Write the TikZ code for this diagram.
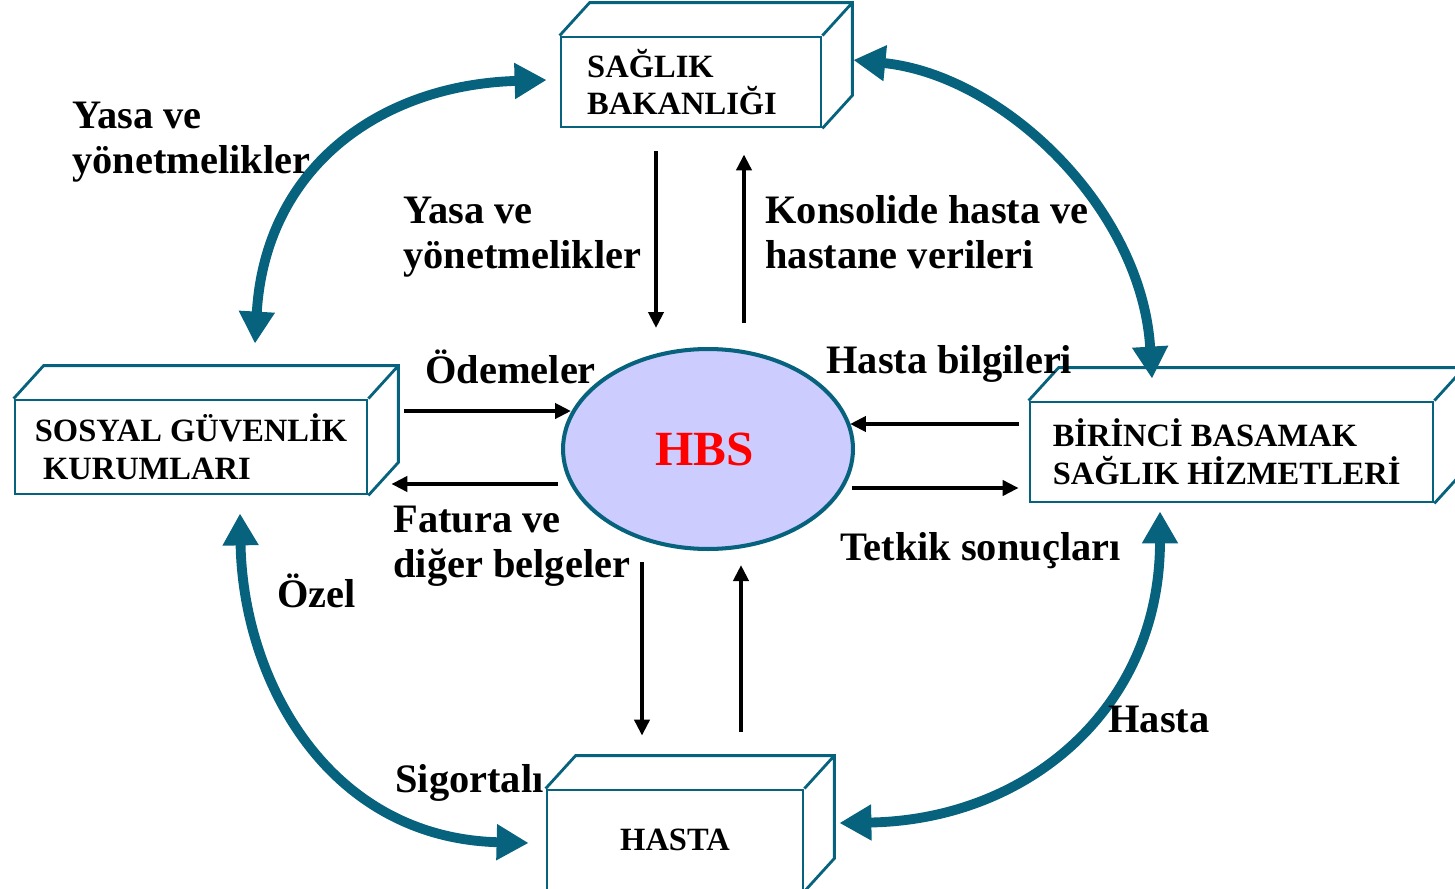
\documentclass[tikz,border=0pt]{standalone}
\usepackage{fontspec}
\setmainfont{Liberation Serif}
\usetikzlibrary{arrows.meta,positioning,shapes.geometric,calc}
\definecolor{petrol}{RGB}{6,98,125}
\definecolor{lavanta}{RGB}{204,204,255}
\tikzset{
  kutu/.style={draw=petrol,line width=1.6pt,align=left,inner sep=0pt,
    font=\fontsize{18.5}{21.5}\selectfont\bfseries},
  kenar/.style={draw=petrol,line width=1.6pt},
  lbl/.style={anchor=base west,align=left,inner sep=0pt,
    font=\fontsize{23}{25.5}\selectfont\bfseries},
  fl/.style={-{Triangle[length=0.32cm,width=0.3cm]},line width=2.4pt},
  cift/.style={{Triangle[length=0.64cm,width=0.68cm]}-{Triangle[length=0.64cm,width=0.68cm]},
    line width=5.6pt,draw=petrol},
}
% top and right faces of a box
\newcommand{\derinlik}[1]{%
  \draw[kenar] (#1.north west) -- ++(30,-33) -- ($(#1.north east)+(30,-33)$)
    -- ($(#1.south east)+(30,-33)$) -- (#1.south east)
    (#1.north east) -- ++(30,-33);}

\begin{document}
\begin{tikzpicture}[x=0.02cm,y=-0.02cm]
  \clip (0,0) rectangle (1455,889);
  \fill[white] (0,0) rectangle (1455,889);
  % boxes
  \node[kutu,minimum width=5.2cm,minimum height=1.8cm] (bakanlik) at (691,82)
    {SAĞLIK\\BAKANLIĞI\hspace*{0.55em}};
  \node[kutu,minimum width=7.04cm,minimum height=1.88cm] (sgk) at (191,447)
    {SOSYAL GÜVENLİK\\\hspace{0.25em}KURUMLARI};
  \node[kutu,minimum width=8.06cm,minimum height=2cm] (birinci) at (1231.5,452)
    {BİRİNCİ BASAMAK\\SAĞLIK HİZMETLERİ\hspace*{0.3em}};
  \node[kutu,minimum width=5.12cm,minimum height=2cm] (hasta) at (675,840) {HASTA};
  \derinlik{bakanlik}
  \derinlik{sgk}
  \derinlik{birinci}
  \derinlik{hasta}
  \node[ellipse,draw=petrol,line width=2.3pt,fill=lavanta,minimum width=5.8cm,
    minimum height=4cm,text=red,font=\fontsize{28}{30}\selectfont\bfseries] (hbs) at (708,449)
    {HBS\hspace*{0.15em}};

  % curved arrows
  \draw[cift] ($(sgk.north)+(64,-55)$) .. controls +(10,-175) and +(-168,5) .. ($(bakanlik.west)+(-13,-2)$);
  \draw[cift] ($(bakanlik.east)+(31,-22)$) .. controls +(150,15) and +(-10,-170) .. ($(birinci.north)+(-79.5,-22)$);
  \draw[cift] ($(sgk.south)+(49,18)$) .. controls +(3,168) and +(-200,-5) .. ($(hasta.west)+(-17,3)$);
  \draw[cift] ($(birinci.south)+(-71.5,8)$) .. controls +(0,195) and +(190,-3) .. ($(hasta.east)+(35,-17)$);

  % straight arrows
  \draw[fl] ($(bakanlik.south)+(-35,23)$) -- ($(hbs.north)+(-52,-19)$);
  \draw[fl] ($(hbs.north)+(36,-24)$) -- ($(bakanlik.south)+(53,26)$);
  \draw[fl] ($(sgk.east)+(36,-36)$) -- ($(hbs.west)+(10,-38)$);
  \draw[fl] ($(hbs.west)+(-3,35)$) -- ($(sgk.east)+(23,37)$);
  \draw[fl] ($(birinci.west)+(-10,-28)$) -- ($(hbs.east)+(-5,-25)$);
  \draw[fl] ($(hbs.east)+(-3,39)$) -- ($(birinci.west)+(-10,36)$);
  \draw[fl] ($(hbs.south)+(-66,11)$) -- ($(hasta.north)+(-33,-53)$);
  \draw[fl] ($(hasta.north)+(66,-57)$) -- ($(hbs.south)+(33,14)$);

  % labels
  \node[lbl] (l1) at (72,173) {Yasa ve\\yönetmelikler};
  \node[lbl] (l2) at (403,268) {Yasa ve\\yönetmelikler};
  \node[lbl] (l3) at (765,268) {Konsolide hasta ve\\hastane verileri};
  \node[lbl] (l4) at (425,383) {Ödemeler};
  \node[lbl] (l5) at (826,373) {Hasta bilgileri};
  \node[lbl] (l6) at (393,577) {Fatura ve\\diğer belgeler};
  \node[lbl] (l7) at (840,560) {Tetkik sonuçları};
  \node[lbl] (l8) at (277,607) {Özel};
  \node[lbl] (l9) at (395,792) {Sigortalı};
  \node[lbl] (l10) at (1108,732) {Hasta};
\end{tikzpicture}
\end{document}
